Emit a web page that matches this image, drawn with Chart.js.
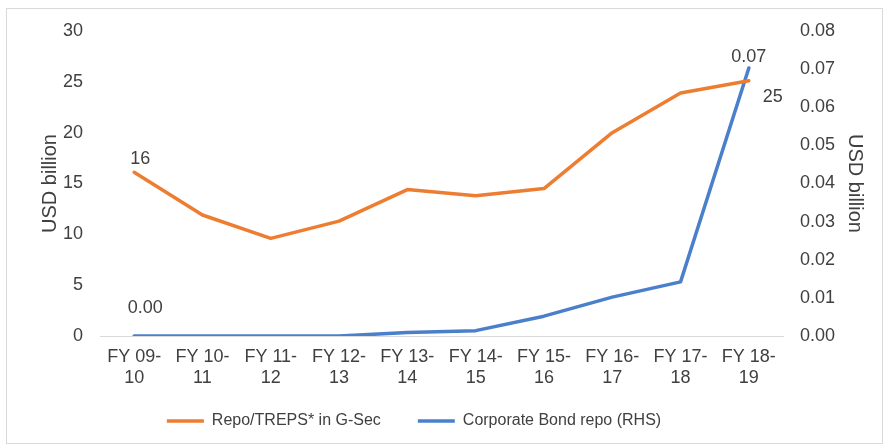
<!DOCTYPE html>
<html>
<head>
<meta charset="utf-8">
<script src="https://cdn.jsdelivr.net/npm/chart.js@4/dist/chart.umd.min.js"></script>
<style>
  html, body { margin: 0; padding: 0; background: #fff; }
  #wrap { position: relative; width: 884px; height: 447px; }
</style>
</head>
<body>
<div id="wrap"><canvas id="chart-repo"></canvas></div>
<script>
const years = [['FY 09-', '10'], ['FY 10-', '11'], ['FY 11-', '12'], ['FY 12-', '13'], ['FY 13-', '14'],
  ['FY 14-', '15'], ['FY 15-', '16'], ['FY 16-', '17'], ['FY 17-', '18'], ['FY 18-', '19']];
const gsecRepo = [16.1, 11.9, 9.6, 11.3, 14.4, 13.8, 14.5, 20.0, 23.9, 25.1];
const corpRepo = [0.0, 0.0, 0.0, 0.0, 0.0009, 0.0014, 0.0052, 0.0102, 0.0142, 0.0703];

const txt = '#404040';
const family = "'Liberation Sans', Arial, sans-serif";
const tickFont = { family, size: 18 };
const titleFont = { family, size: 20 };
const legendFont = { family, size: 16 };

// value labels on chosen points: [index, text, dx, dy]
const pointLabels = {
  id: 'pointLabels',
  afterDatasetsDraw(chart) {
    const ctx = chart.ctx;
    ctx.save();
    ctx.font = `${tickFont.size}px ${family}`;
    ctx.fillStyle = txt;
    ctx.textAlign = 'center';
    ctx.textBaseline = 'middle';
    chart.data.datasets.forEach((ds, i) => {
      const meta = chart.getDatasetMeta(i);
      (ds.valueLabels || []).forEach(([idx, text, dx, dy]) => {
        const el = meta.data[idx];
        ctx.fillText(text, el.x + dx, el.y + dy);
      });
    });
    ctx.restore();
  }
};

// legend: wide item gap but a short reserved height, then placed by hand
const legendPlace = {
  id: 'legendPlace',
  beforeLayout(chart) {
    const lg = chart.legend;
    if (!lg || lg._patched) return;
    const fit = lg.fit;
    lg.fit = function () { fit.call(this); this.height = 49; };
    lg._patched = true;
  },
  afterLayout(chart) {
    const lg = chart.legend;
    lg.left -= 28; lg.right -= 28;
    lg.top -= 22;
  }
};

// white background + thin grey frame
const frame = {
  id: 'frame',
  beforeDraw(chart) {
    const ctx = chart.ctx;
    ctx.save();
    ctx.fillStyle = '#fff';
    ctx.fillRect(0, 0, chart.width, chart.height);
    ctx.strokeStyle = '#d9d9d9';
    ctx.lineWidth = 1;
    ctx.strokeRect(6.5, 8.5, chart.width - 8, chart.height - 12);
    ctx.restore();
  }
};

new Chart(document.getElementById('chart-repo'), {
  type: 'line',
  data: {
    labels: years,
    datasets: [
      { label: 'Repo/TREPS* in G-Sec', data: gsecRepo, borderColor: '#ED7D31', backgroundColor: '#ED7D31',
        borderWidth: 3.5, yAxisID: 'y', valueLabels: [[0, '16', 6, -13], [9, '25', 24, 16]] },
      { label: 'Corporate Bond repo (RHS)', data: corpRepo, borderColor: '#4A7FCC', backgroundColor: '#4A7FCC',
        borderWidth: 3.5, yAxisID: 'y1', valueLabels: [[0, '0.00', 11, -28], [9, '0.07', 0, -11]] },
    ]
  },
  options: {
    responsive: true,
    maintainAspectRatio: false,
    animation: false,
    layout: { padding: { top: 31, bottom: 0, left: 0, right: 0 } },
    elements: { point: { radius: 0 }, line: { tension: 0, borderCapStyle: 'round', borderJoinStyle: 'round' } },
    plugins: {
      tooltip: { enabled: false },
      legend: {
        position: 'bottom',
        labels: { color: txt, font: legendFont, usePointStyle: true, pointStyle: 'line', pointStyleWidth: 37, padding: 37 }
      }
    },
    scales: {
      x: {
        offset: true,
        grid: { display: false, drawTicks: false },
        border: { display: true, color: '#d9d9d9', width: 1 },
        ticks: { color: txt, font: tickFont, padding: 10, maxRotation: 0, autoSkip: false },
        afterFit(s) { s.height = 62; }
      },
      y: {
        position: 'left', min: 0, max: 30,
        grid: { display: false, drawTicks: false }, border: { display: false },
        ticks: { color: txt, font: tickFont, stepSize: 5, padding: 17 },
        title: { display: true, text: 'USD billion', color: txt, font: titleFont, padding: { top: 38, bottom: 0 } },
        afterFit(s) { s.width = 100; }
      },
      y1: {
        position: 'right', min: 0, max: 0.08,
        grid: { display: false, drawTicks: false }, border: { display: false },
        ticks: { color: txt, font: tickFont, stepSize: 0.01, padding: 17, callback: v => v.toFixed(2) },
        title: { display: true, text: 'USD billion', color: txt, font: titleFont, padding: { top: 17, bottom: 0 } },
        afterFit(s) { s.width = 101; }
      }
    }
  },
  plugins: [frame, legendPlace, pointLabels]
});
</script>
</body>
</html>
